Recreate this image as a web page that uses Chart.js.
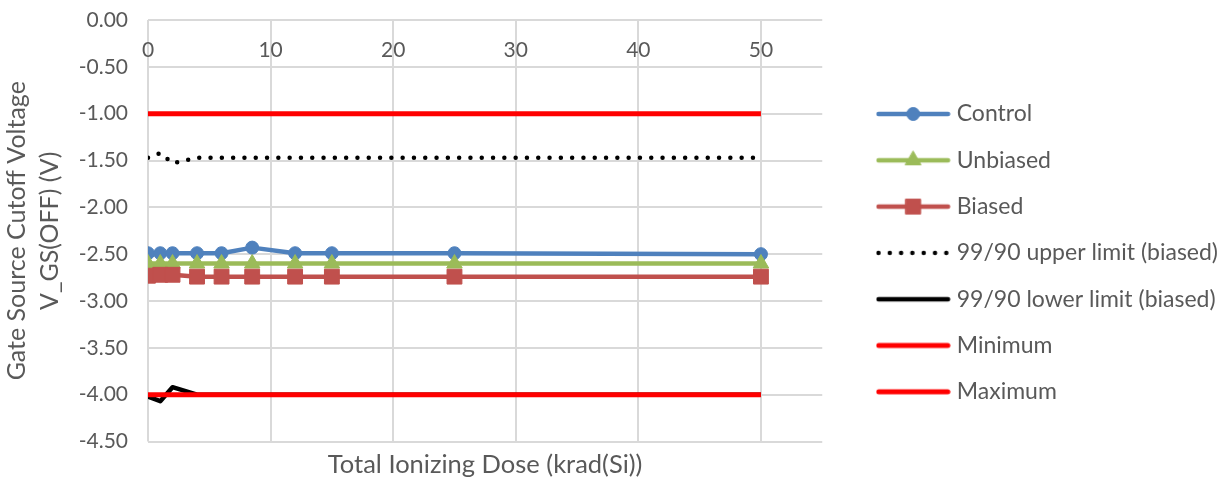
<!DOCTYPE html>
<html><head><meta charset="utf-8">
<script src="https://cdn.jsdelivr.net/npm/chart.js@4/dist/chart.umd.min.js"></script>
<style>html,body{margin:0;padding:0;background:#fff}#wrap{width:1229px;height:478px}</style>
</head><body><div id="wrap"><canvas id="c" width="1229" height="478"></canvas></div>
<script>
// ---- data ----
const dose = [0, 1, 2, 4, 6, 8.5, 12, 15, 25, 50];
const control = [-2.49, -2.49, -2.49, -2.49, -2.49, -2.43, -2.49, -2.49, -2.49, -2.50];
const unbiased = [-2.60, -2.60, -2.60, -2.60, -2.60, -2.60, -2.60, -2.60, -2.60, -2.60];
const biased = [-2.73, -2.72, -2.72, -2.74, -2.74, -2.74, -2.74, -2.74, -2.74, -2.74];
const upperLimit = [-1.47, -1.42, -1.53, -1.47, -1.47, -1.47, -1.47, -1.47, -1.47, -1.47];
const lowerLimit = [-4.02, -4.07, -3.92, -4.00, -4.00, -4.00, -4.00, -4.00, -4.00, -4.00];
const minimum = [-1.00, -1.00, -1.00, -1.00, -1.00, -1.00, -1.00, -1.00, -1.00, -1.00];
const maximum = [-4.00, -4.00, -4.00, -4.00, -4.00, -4.00, -4.00, -4.00, -4.00, -4.00];
const seriesNames = ['Control', 'Unbiased', 'Biased', '99/90 upper limit (biased)', '99/90 lower limit (biased)', 'Minimum', 'Maximum'];
const xTickValues = [0, 10, 20, 30, 40, 50];
const xTitle = 'Total Ionizing Dose (krad(Si))';
const yTitle = ['Gate Source Cutoff Voltage', 'V_GS(OFF) (V)'];
const xRange = [0, 55];
const yRange = [-4.5, 0], yStep = 0.5;

// ---- styling ----
const FONT = 'Lato';
const FS_TICK = 21;
const FS_LEG = 23;
const FS_XTITLE = 25.5;
const FS_YTITLE = 25;
const TXT = '#595959';
const GRID = '#d9d9d9';
Chart.defaults.font.family = FONT;
Chart.defaults.font.size = FS_TICK;
Chart.defaults.color = TXT;

const pts = a => dose.map((x, i) => ({x, y: a[i]}));
const values = [control, unbiased, biased, upperLimit, lowerLimit, minimum, maximum];
const styles = [
  {c: '#4F81BD', w: 4.5, ps: 'circle', r: 6.5},
  {c: '#9BBB59', w: 4.5, ps: 'triangle', r: 9},
  {c: '#C0504D', w: 4.5, ps: 'rect', r: 10.5},
  {c: '#000000', w: 4.5, ps: false, r: 0, dash: [0, 11.3], cap: 'round'},
  {c: '#000000', w: 4.5, ps: false, r: 0},
  {c: '#FF0000', w: 5, ps: false, r: 0},
  {c: '#FF0000', w: 5, ps: false, r: 0}
];

const datasets = values.map((v, i) => {
  const s = styles[i];
  return {
    label: seriesNames[i],
    data: pts(v),
    borderColor: s.c,
    backgroundColor: s.c,
    borderWidth: s.w,
    borderDash: s.dash || [],
    borderCapStyle: s.cap || 'butt',
    borderJoinStyle: 'round',
    pointStyle: s.ps || 'circle',
    pointRadius: s.r,
    pointBorderWidth: 1,
    pointBackgroundColor: s.c,
    pointBorderColor: s.c,
    pointHoverRadius: s.r,
    tension: 0,
    order: values.length - i
  };
});

function legendImage(s) {
  const W = 75, H = 22;
  const c = document.createElement('canvas');
  c.width = W; c.height = H;
  const g = c.getContext('2d');
  g.strokeStyle = s.c;
  g.lineWidth = s.w;
  g.lineCap = 'round';
  if (s.dash) g.setLineDash(s.dash);
  g.beginPath();
  g.moveTo(s.w / 2 + 0.5, H / 2);
  g.lineTo(W - s.w / 2 - 0.5, H / 2);
  g.stroke();
  g.setLineDash([]);
  if (s.ps) {
    g.fillStyle = s.c;
    g.strokeStyle = s.c;
    g.lineWidth = 1;
    Chart.helpers.drawPoint(g, {pointStyle: s.ps, radius: s.r, rotation: 0, borderWidth: 1}, W / 2, H / 2);
  }
  return c;
}
const legendImages = styles.map(legendImage);

const noPad = s => { s.paddingTop = 0; s.paddingBottom = 0; s.paddingLeft = 0; s.paddingRight = 0; };

new Chart(document.getElementById('c'), {
  type: 'line',
  data: {datasets},
  options: {
    responsive: false,
    animation: false,
    devicePixelRatio: 1,
    layout: {padding: {top: 20, right: 1, bottom: 0, left: 0}},
    scales: {
      x: {
        type: 'linear', position: 'top', min: xRange[0], max: xRange[1],
        afterBuildTicks: s => { s.ticks = xTickValues.map(v => ({value: v})); },
        afterFit: s => { s.height = 0; noPad(s); },
        ticks: {mirror: true, padding: 0, maxRotation: 0, autoSkip: false,
                font: {size: FS_TICK, lineHeight: '60px'}, color: TXT},
        grid: {color: GRID, lineWidth: 2, drawTicks: false},
        border: {display: false}
      },
      x2: {
        type: 'linear', position: 'bottom', min: xRange[0], max: xRange[1],
        ticks: {display: false},
        grid: {display: false, drawTicks: false},
        border: {display: false},
        afterFit: s => { s.height = 36.5; noPad(s); },
        title: {display: true, text: xTitle, color: TXT, font: {size: FS_XTITLE, lineHeight: 1}, padding: {top: 10.5, bottom: 0.5}}
      },
      y: {
        type: 'linear', position: 'left', min: yRange[0], max: yRange[1],
        ticks: {stepSize: yStep, padding: 20, color: TXT, font: {size: FS_TICK}, callback: v => v.toFixed(2)},
        grid: {color: GRID, lineWidth: 2, drawTicks: false},
        border: {display: false},
        title: {display: true, text: yTitle, color: TXT, font: {size: FS_YTITLE, lineHeight: '33px'}, padding: {top: 0.5, bottom: 0}},
        afterFit: s => { s.width = 148; noPad(s); }
      },
      yGap: {
        type: 'linear', position: 'right', display: true,
        ticks: {display: false},
        grid: {display: false, drawTicks: false},
        border: {display: false},
        afterFit: s => { s.width = 35.7; noPad(s); }
      }
    },
    plugins: {
      tooltip: {enabled: false},
      legend: {
        position: 'right',
        align: 'start',
        maxWidth: 420,
        title: {display: true, text: '', font: {size: 10, lineHeight: 1}, padding: {top: 49.2, bottom: 0}},
        labels: {
          usePointStyle: true,
          pointStyleWidth: 64,
          boxHeight: FS_LEG,
          padding: 23.3,
          color: TXT,
          font: {size: FS_LEG},
          generateLabels: chart => chart.data.datasets.map((ds, i) => ({
            text: ds.label, pointStyle: legendImages[i], datasetIndex: i,
            hidden: false, lineWidth: 0, fontColor: TXT,
            fillStyle: 'rgba(0,0,0,0)', strokeStyle: 'rgba(0,0,0,0)'
          }))
        }
      }
    }
  }
});
</script>
</body></html>
